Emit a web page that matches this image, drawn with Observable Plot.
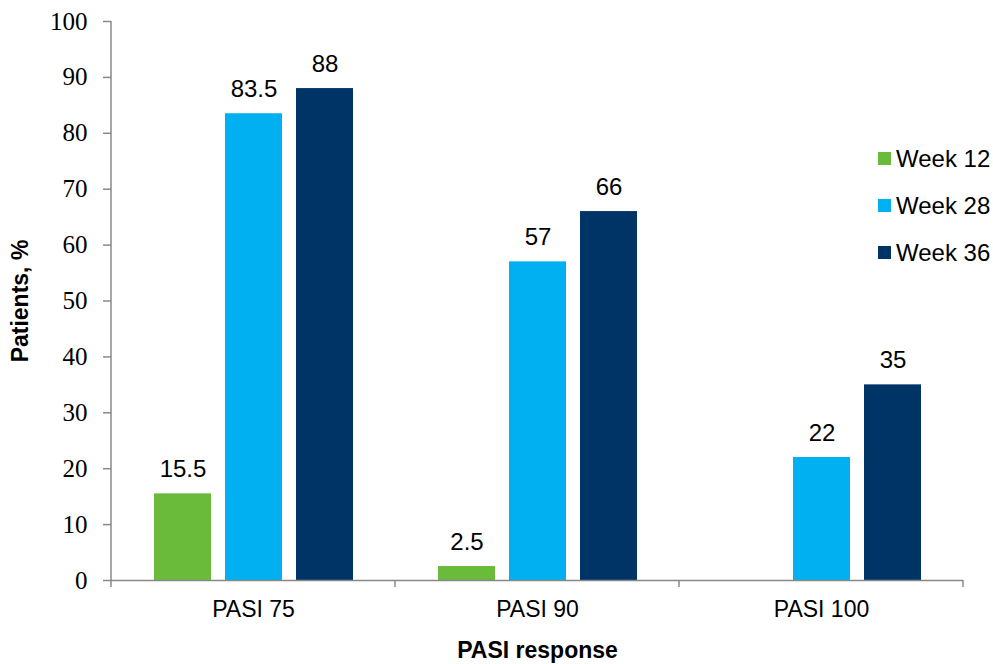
<!DOCTYPE html>
<html><head><meta charset="utf-8">
<script src="https://cdn.jsdelivr.net/npm/d3@7"></script>
<script src="https://cdn.jsdelivr.net/npm/@observablehq/plot@0.6"></script>
<style>
body{margin:0;background:#fff;}
#wrap{position:relative;width:993px;height:664px;}
#legend{position:absolute;left:878px;top:135px;font-family:"Liberation Sans",Arial,sans-serif;font-size:24px;color:#000;}
.item{display:flex;align-items:center;height:47px;}
.sw{width:13px;height:13px;margin-right:5px;}
</style></head><body><div id="wrap"><div id="chart"></div><div id="legend"></div></div>
<script>
const groups = ["PASI 75", "PASI 90", "PASI 100"];
const series = ["Week 12", "Week 28", "Week 36"];
const week12 = [15.5, 2.5, null];
const week28 = [83.5, 57, 22];
const week36 = [88, 66, 35];
const colors = ["#6BBB3B", "#00B0F0", "#003466"];
const yTicks = [0, 10, 20, 30, 40, 50, 60, 70, 80, 90, 100];

const values = [week12, week28, week36];
const data = [];
groups.forEach((g, gi) => series.forEach((s, si) => {
  const v = values[si][gi];
  if (v != null) data.push({group: g, series: s, value: v});
}));

const sans = "Liberation Sans, Arial, sans-serif";
const chart = Plot.plot({
  width: 993, height: 664,
  marginLeft: 111, marginRight: 30, marginTop: 21, marginBottom: 84,
  style: {fontFamily: sans, background: "#fff"},
  fx: {domain: groups, padding: 0},
  x: {domain: series, paddingInner: 0.2, paddingOuter: 0.6, axis: null},
  y: {domain: [0, 100]},
  color: {domain: series, range: colors},
  marks: [
    Plot.barY(data, {fx: "group", x: "series", y: "value", fill: "series"}),
    Plot.text(data, {fx: "group", x: "series", y: "value", text: d => String(d.value),
      dy: -17, lineAnchor: "bottom", fontSize: 24, fontFamily: sans, fill: "#000"}),
    Plot.ruleY([0], {stroke: "#888", strokeWidth: 1.5}),
    Plot.axisY({ticks: yTicks, tickSize: 8, tickPadding: 16, fontSize: 25,
      fontFamily: "Liberation Serif, Times New Roman, serif", stroke: "#888", strokeWidth: 1.5, fill: "#000", label: null}),
    Plot.axisY({ticks: [], label: "Patients, %", labelArrow: "none", labelAnchor: "center", labelOffset: 100,
      fontSize: 23, fontWeight: "bold", fontFamily: sans, fill: "#000"}),
    Plot.axisFx({anchor: "bottom", tickSize: 0, tickPadding: 20, fontSize: 23, fontFamily: sans, fill: "#000", label: null}),
    Plot.axisFx({anchor: "bottom", ticks: [], label: "PASI response", labelArrow: "none", labelAnchor: "center", labelOffset: 77,
      fontSize: 23, fontWeight: "bold", fontFamily: sans, fill: "#000"})
  ]
});
document.getElementById("chart").appendChild(chart);

// axis domain line and category boundary ticks, from the plot's scales
const fx = chart.scale("fx"), y = chart.scale("y");
const svg = d3.select(chart);
const g = svg.append("g").attr("stroke", "#888").attr("stroke-width", 1.5);
const x0 = fx.apply(groups[0]);
g.append("line").attr("x1", x0).attr("x2", x0).attr("y1", y.apply(100)).attr("y2", y.apply(0));
d3.range(groups.length + 1).forEach(i => {
  const xx = x0 + i * fx.step;
  g.append("line").attr("x1", xx).attr("x2", xx).attr("y1", y.apply(0)).attr("y2", y.apply(0) + 7);
});

const legend = d3.select("#legend");
series.forEach((s, i) => {
  const it = legend.append("div").attr("class", "item");
  it.append("div").attr("class", "sw").style("background", colors[i]);
  it.append("span").text(s);
});
</script></body></html>
